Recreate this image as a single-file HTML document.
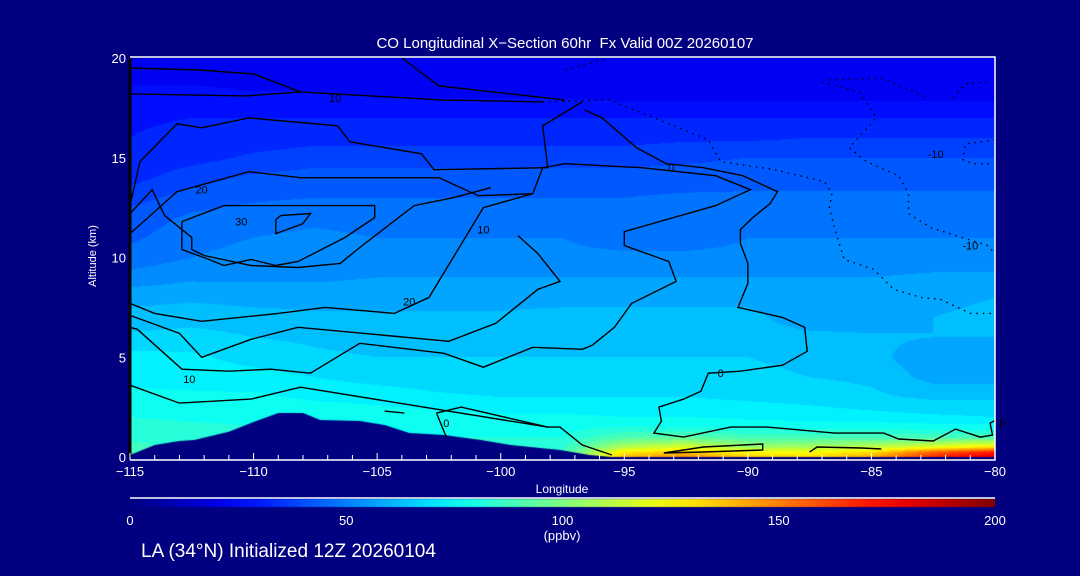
<!DOCTYPE html>
<html><head><meta charset="utf-8"><style>
html,body{margin:0;padding:0;background:#000080;font-family:"Liberation Sans",sans-serif;}
#wrap{position:relative;width:1080px;height:576px;background:#000080;overflow:hidden;font-family:"Liberation Sans",sans-serif;color:#fff;}
canvas,svg{position:absolute;left:0;top:0;}
.t{position:absolute;white-space:nowrap;color:#fff;font-family:"Liberation Sans",sans-serif;}
</style></head><body>
<div id="wrap">
<canvas id="field" width="1080" height="576"></canvas>
<svg id="ov" width="1080" height="576"></svg>
<div class="t" style="left:0;width:1130px;top:35px;text-align:center;font-size:15px;">CO Longitudinal X&#8722;Section 60hr&nbsp; Fx Valid 00Z 20260107</div>
<div class="t" style="left:48px;top:250px;width:90px;text-align:center;font-size:11px;transform:rotate(-90deg);">Altitude (km)</div>
<div class="t" style="left:512px;top:482px;width:100px;text-align:center;font-size:12px;">Longitude</div>
<div class="t" style="left:512px;top:528px;width:100px;text-align:center;font-size:13px;">(ppbv)</div>
<div class="t" style="left:141px;top:541px;font-size:19px;">LA (34°N) Initialized 12Z 20260104</div>
</div>
<script>
// ---- data ----
const lons = [-115,-112.5,-110,-107.5,-105,-102.5,-100,-97.5,-95,-92.5,-90,-87.5,-85,-82.5,-80];
const alts = [0,0.25,0.5,1,1.5,2,3,4,5,6,7,8,9,10,11,12,13,14,15,16,17,18,19,20];
const coRow0   = [90,88,86,85,84,84,84,88,140,148,135,132,142,168,182];
const coRow025 = [88,86,85,84,83,83,83,86,128,135,124,124,130,155,170];
const coRow05  = [86,85,84,83,82,82,82,84,110,118,105,108,112,120,130];
const coRow1   = [84,83,82,82,80,80,80,80,90,92,88,88,88,88,88];
const coRow15  = [82,81,80,80,79,78,78,78,80,79,78,78,78,77,77];
const coRow2   = [80,79,79,79,78,77,76,76,75,75,74,73,72,71,70];
const coRow3   = [76,76,76,74,73,71,70,70,70,70,69,68,66,64,64];
const coRow4   = [74,73,72,70,68,67,66,66,66,66,66,65,64,58,58];
const coRow5   = [72,71,68,66,65,65,65,65,65,65,65,64,62,56,56];
const coRow6   = [66,67,65,64,63,63,63,63,63,63,63,62,61,60,60];
const coRow7   = [62,63,62,61,61,61,61,62,62,62,62,56,56,60,62];
const coRow8   = [58,59,58,58,58,58,58,58,58,58,58,56,56,58,60];
const coRow9   = [52,54,54,54,55,55,55,55,55,55,55,55,55,56,56];
const coRow10  = [47,50,52,52,52,52,52,52,52,52,52,52,52,52,52];
const coRow11  = [44,48,50,51,50,50,50,50,46,46,50,50,50,50,50];
const coRow12  = [42,46,48,49,48,48,48,48,48,48,48,48,48,48,48];
const coRow13  = [38,42,44,45,45,45,45,45,45,46,46,46,46,46,46];
const coRow14  = [33,38,41,42,42,42,42,42,42,42,43,43,43,43,43];
const coRow15k = [31,33,36,38,38,38,38,38,38,39,40,40,40,40,40];
const coRow16  = [30,32,32,33,33,33,33,33,33,34,34,35,35,35,35];
const coRow17  = [29,30,30,30,30,30,30,30,30,30,30,30,30,30,30];
const coRow18  = [27,27,26,26,25,25,25,25,24,24,24,24,24,24,24];
const coRow19  = [24,24,23,23,23,23,23,22,22,22,22,22,22,22,22];
const coRow20  = [22,22,22,22,22,22,22,22,22,22,22,21,21,21,21];
const terrainLons = [-115,-114,-113,-112.4,-111,-110,-109,-108,-107.3,-105.7,-104.7,-103.7,-102.3,-100.8,-99.6,-97.6,-96.4,-95.5];
const terrainAlt  = [0.1,0.6,0.8,0.85,1.27,1.75,2.2,2.2,1.85,1.8,1.6,1.2,1.1,0.85,0.6,0.35,0.1,0];
const xTicks = [-115,-110,-105,-100,-95,-90,-85,-80];
const yTicks = [0,5,10,15,20];
const cbTicks = [0,50,100,150,200];
// contour lines as [lon, alt] pairs
const contourSolid = [
 [[-115,19.5],[-112.2,19.4],[-110.0,19.2],[-108.1,18.3],[-102.4,17.9],[-98.3,17.8]],
 [[-115,18.2],[-110.3,18.1],[-108.1,18.3]],
 [[-104.0,20],[-102.5,18.6],[-97.4,17.9]],
 [[-115,12.6],[-114.6,14.8],[-113.1,16.7],[-112.1,16.5],[-110.2,17.0],[-106.6,16.6],[-106.1,15.8],[-103.2,15.2],[-102.7,14.4],[-98.1,14.5],[-98.3,16.6],[-96.7,17.8]],
 [[-115,11.2],[-113.1,13.3],[-110.2,14.3],[-108.1,14.0],[-102.5,14.0],[-100.9,13.1],[-98.7,13.2],[-98.3,14.5],[-97.4,14.7],[-94.3,14.5],[-91.3,14.1],[-89.9,13.4],[-91.3,12.6],[-95.0,11.3],[-95.0,10.6],[-93.2,9.8],[-92.9,8.8],[-94.7,7.7],[-95.4,6.5],[-96.3,5.6],[-96.7,5.4],[-98.7,5.5],[-100.7,4.5],[-102.3,5.2],[-105.7,5.7],[-107.7,4.2],[-109.3,4.4],[-111.0,4.3],[-112.9,4.4],[-114.7,6.4],[-115,6.5]],
 [[-96.6,17.4],[-95.9,17.0],[-94.5,15.5],[-93.3,14.7],[-91.8,14.5],[-90.2,14.1],[-88.8,13.3],[-89.1,12.7],[-89.8,12.0],[-90.3,11.4],[-90.3,10.7],[-90.0,9.7],[-90.0,8.7],[-90.4,7.5],[-88.6,7.0],[-87.7,6.5],[-87.6,5.3],[-88.6,4.6],[-90.3,4.3],[-91.6,4.2],[-91.9,3.3],[-92.6,2.9],[-93.6,2.5],[-93.5,1.8],[-93.8,1.2],[-92.6,1.0],[-90.7,1.5],[-89.2,1.5],[-86.5,1.2],[-84.5,1.2],[-83.9,0.9],[-82.5,0.8],[-81.6,1.4],[-80.6,1.0],[-80.1,1.1],[-80.2,1.7],[-79.9,1.9]],
 [[-115,12.2],[-114.1,13.4],[-113.6,12.1],[-112.5,11.0],[-112.5,10.4],[-112.0,10.1],[-110.1,9.6],[-108.2,9.5],[-106.5,9.7],[-105.6,10.6],[-103.5,12.6],[-101.9,13.0],[-100.4,13.5]],
 [[-112.9,11.8],[-111.2,12.6],[-105.1,12.6],[-105.1,12.0],[-106.3,11.0],[-108.2,9.8],[-109.1,9.6],[-110.1,9.9],[-111.2,9.6],[-111.8,9.9],[-112.9,10.4],[-112.9,11.8]],
 [[-109.1,11.9],[-108.9,12.1],[-107.7,12.2],[-108.0,11.7],[-109.1,11.2],[-109.1,11.9]],
 [[-115,7.7],[-114.0,7.2],[-112.1,6.8],[-109.0,7.2],[-107.1,7.5],[-104.3,7.2],[-102.9,8.0],[-100.7,12.5],[-98.7,13.2]],
 [[-115,7.1],[-113.0,6.2],[-112.1,5.0],[-110.1,5.9],[-108.2,6.5],[-102.1,5.8],[-100.2,6.7],[-98.5,8.4],[-97.6,8.8],[-98.5,10.2],[-99.3,11.1]],
 [[-115,3.6],[-113.0,2.7],[-110.1,2.9],[-108.1,3.5],[-98.1,1.5],[-97.6,1.5],[-96.7,0.6],[-95.5,0.1]],
 [[-104.7,2.3],[-103.9,2.2]],
 [[-102.6,2.2],[-101.6,2.5],[-98.1,1.5]],
 [[-102.6,2.2],[-102.2,1.0]],
 [[-93.4,0.2],[-91.8,0.5],[-89.4,0.65],[-89.4,0.35],[-91.8,0.25],[-93.4,0.2]],
 [[-87.5,0.25],[-87.2,0.5],[-85.4,0.45],[-84.6,0.4]]
];
const contourDotted = [
 [[-98.3,17.8],[-95.6,17.9],[-93.8,17.0],[-91.6,15.9],[-91.1,14.8],[-88.9,14.4],[-86.9,13.8],[-86.6,13.2],[-86.7,12.5],[-86.5,11.5],[-86.1,9.9],[-84.9,9.4],[-84.1,8.4],[-83.0,8.0],[-82.2,7.9],[-81.0,7.2],[-80,7.2]],
 [[-87.0,18.8],[-85.5,18.3],[-84.8,17.0],[-85.9,15.5],[-85.2,14.8],[-83.9,14.1],[-83.5,13.2],[-83.5,12.2],[-82.6,11.5],[-80.3,10.6],[-80,10.2]],
 [[-86.7,18.9],[-84.6,19.0],[-82.7,18.0]],
 [[-81.7,18.0],[-81.2,18.7],[-80.3,18.8]],
 [[-80,15.9],[-81.2,15.7],[-81.3,14.9],[-80.9,14.7],[-80,14.7]],
 [[-97.4,19.4],[-95.6,20]]
];
const contourLabels = [["10",-106.7,18.0],["20",-112.1,13.4],["30",-110.5,11.8],["20",-103.7,7.8],["10",-100.7,11.4],["10",-112.6,3.9],["0",-102.2,1.7],["0",-93.1,14.5],["0",-91.1,4.2],["-10",-82.4,15.2],["-10",-81.0,10.6],["0",-79.7,1.7]];

// ---- scales ----
const X0=130,X1=995,Y0=457,Y1=58;
function xs(lon){return X0+(lon+115)/35*(X1-X0);}
function ys(a){return Y0-a/20*(Y0-Y1);}
const grid=[coRow0,coRow025,coRow05,coRow1,coRow15,coRow2,coRow3,coRow4,coRow5,coRow6,coRow7,coRow8,coRow9,coRow10,coRow11,coRow12,coRow13,coRow14,coRow15k,coRow16,coRow17,coRow18,coRow19,coRow20];
function jet(v){
  let t=Math.max(0,Math.min(1,v/200));
  function f(x){return Math.max(0,Math.min(1,x));}
  let r=f(Math.min(4*t-1.5,-4*t+4.5)),g=f(Math.min(4*t-0.5,-4*t+3.5)),b=f(Math.min(4*t+0.5,-4*t+2.5));
  return [Math.round(r*255),Math.round(g*255),Math.round(b*255)];
}
function idx(arr,v){for(let i=0;i<arr.length-1;i++){if(v<=arr[i+1])return i;}return arr.length-2;}
function sample(lon,a){
  const i=idx(lons,lon),j=idx(alts,a);
  const fx=Math.max(0,Math.min(1,(lon-lons[i])/(lons[i+1]-lons[i])));
  const fy=Math.max(0,Math.min(1,(a-alts[j])/(alts[j+1]-alts[j])));
  const v00=grid[j][i],v10=grid[j][i+1],v01=grid[j+1][i],v11=grid[j+1][i+1];
  return (v00*(1-fx)+v10*fx)*(1-fy)+(v01*(1-fx)+v11*fx)*fy;
}
// ---- draw field ----
const cv=document.getElementById('field'),ctx=cv.getContext('2d');
const img=ctx.createImageData(X1-X0,Y0-Y1);
for(let py=0;py<Y0-Y1;py++){
  const a=(Y0-Y1-py-0.5)/(Y0-Y1)*20;
  for(let px=0;px<X1-X0;px++){
    const lon=-115+(px+0.5)/(X1-X0)*35;
    let v=sample(lon,a);
    v=Math.floor(v/5)*5+2.5;
    const c=jet(v),k=(py*(X1-X0)+px)*4;
    img.data[k]=c[0];img.data[k+1]=c[1];img.data[k+2]=c[2];img.data[k+3]=255;
  }
}
ctx.putImageData(img,X0,Y1);
// terrain
ctx.fillStyle='#000080';ctx.beginPath();ctx.moveTo(xs(terrainLons[0]),Y0+2);
for(let i=0;i<terrainLons.length;i++)ctx.lineTo(xs(terrainLons[i]),ys(terrainAlt[i]));
ctx.lineTo(xs(terrainLons[terrainLons.length-1]),Y0+2);ctx.closePath();ctx.fill();
// colorbar
const cbg=ctx.createLinearGradient(X0,0,X1,0);
for(let s=0;s<=20;s++){const c=jet(s*10);cbg.addColorStop(s/20,'rgb('+c.join(',')+')');}
ctx.fillStyle=cbg;ctx.fillRect(X0,499,X1-X0,8);

// ---- overlay ----
const NS='http://www.w3.org/2000/svg',ov=document.getElementById('ov');
function mk(tag,attrs){const e=document.createElementNS(NS,tag);for(const k in attrs)e.setAttribute(k,attrs[k]);ov.appendChild(e);return e;}
function pts(line){return line.map(p=>xs(p[0]).toFixed(1)+','+ys(p[1]).toFixed(1)).join(' ');}
contourSolid.forEach(function(l){
  const e=mk('polyline',{points:pts(l),fill:'none',stroke:'#000','stroke-width':1.4});
  
  
});
contourDotted.forEach(function(l){
  const e=mk('polyline',{points:pts(l),fill:'none',stroke:'#000','stroke-width':1.4,'stroke-dasharray':'1.5 5'});
  
  
});
contourLabels.forEach(function(l){
  const e=mk('text',{x:xs(l[1]),y:ys(l[2])+4,'font-size':11,'text-anchor':'middle',fill:'#000','font-family':'Liberation Sans, sans-serif'});
  e.textContent=l[0];
  
  
});
// frame
let fr=mk('path',{d:'M'+X0+' '+(Y1-1)+' H'+X1+' V'+(Y0+3)+' H'+X0,fill:'none',stroke:'#fff','stroke-width':1.5});


let lf=mk('line',{x1:X0,y1:Y1,x2:X0,y2:Y0,stroke:'#000','stroke-width':3});


// x ticks
for(let d=-115;d<=-80;d++){
  const major=xTicks.indexOf(d)>=0;
  const e=mk('line',{x1:xs(d),x2:xs(d),y1:Y0+3,y2:Y0+3-(major?7:5),stroke:'#fff','stroke-width':1});
  
  
}
xTicks.forEach(function(d){
  const e=mk('text',{x:xs(d),y:Y0+19,'font-size':13,'text-anchor':'middle',fill:'#fff','font-family':'Liberation Sans, sans-serif'});
  e.textContent='\u2212'+Math.abs(d);
  
  
});
yTicks.forEach(function(a){
  const e=mk('text',{x:X0-4,y:ys(a)+5,'font-size':13,'text-anchor':'end',fill:'#fff','font-family':'Liberation Sans, sans-serif'});
  e.textContent=a;
  
  
});
// colorbar line + labels
let cbl=mk('line',{x1:X0,x2:X1,y1:498,y2:498,stroke:'#fff','stroke-width':1.5});


cbTicks.forEach(function(v){
  const e=mk('text',{x:X0+v/200*(X1-X0),y:525,'font-size':13,'text-anchor':'middle',fill:'#fff','font-family':'Liberation Sans, sans-serif'});
  e.textContent=v;
  
  
});
</script>
</body></html>
